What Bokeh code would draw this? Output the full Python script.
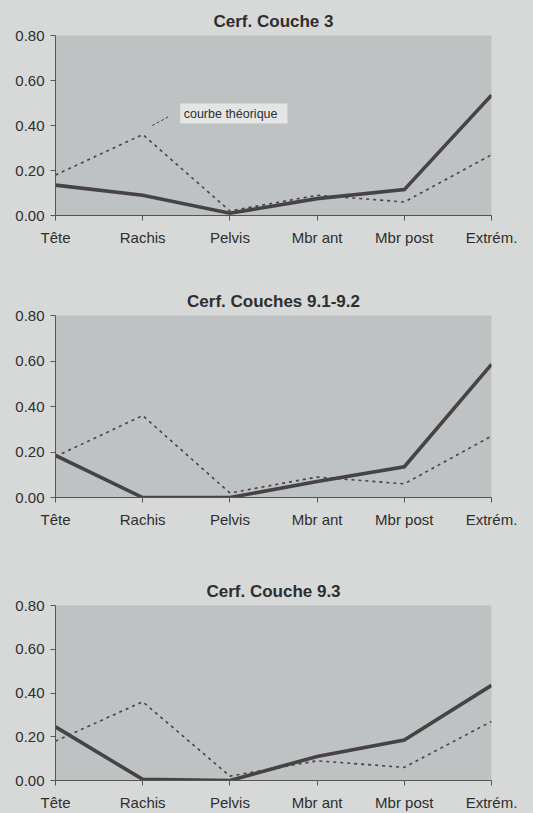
from bokeh.plotting import figure
from bokeh.layouts import column
from bokeh.models import FixedTicker, BoxAnnotation, Label, Range1d, NumeralTickFormatter
from bokeh.embed import file_html
from bokeh.resources import INLINE

categories = ["Tête", "Rachis", "Pelvis", "Mbr ant", "Mbr post", "Extrém."]
theorique = [0.18, 0.36, 0.02, 0.09, 0.06, 0.27]
couche_3 = [0.135, 0.09, 0.01, 0.075, 0.115, 0.535]
couches_91_92 = [0.185, 0.0, 0.0, 0.07, 0.135, 0.585]
couche_93 = [0.245, 0.005, 0.0, 0.11, 0.185, 0.435]
titles = ["Cerf. Couche 3", "Cerf. Couches 9.1-9.2", "Cerf. Couche 9.3"]
series = [couche_3, couches_91_92, couche_93]
y_ticks = [0.0, 0.2, 0.4, 0.6, 0.8]

PAGE_BG = "#d6d9d8"
PLOT_BG = "#bec2c2"
INK = "#474245"
TEXT = "#2e2e2e"
FONT = "Liberation Sans"

# per-panel layout: height, borders (top, bottom, left, right), title standoff
layouts = [
    dict(height=258, top=35, bottom=43, left=55, right=36, tstand=10),
    dict(height=290, top=57, bottom=51, left=53, right=40, tstand=9),
    dict(height=265, top=57, bottom=29, left=52, right=42, tstand=10),
]

figs = []
xs = list(range(len(categories)))
for i, (title, obs, lay) in enumerate(zip(titles, series, layouts)):
    p = figure(width=533, height=lay["height"], output_backend="svg", toolbar_location=None,
               x_range=Range1d(0, len(categories) - 1), y_range=Range1d(0, 0.8),
               min_border_top=lay["top"], min_border_bottom=lay["bottom"],
               min_border_left=lay["left"], min_border_right=lay["right"],
               title=title)
    p.background_fill_color = PLOT_BG
    p.border_fill_color = PAGE_BG
    p.outline_line_color = None
    p.grid.visible = False

    p.title.text_font = FONT
    p.title.text_font_size = "17px"
    p.title.text_font_style = "bold"
    p.title.text_color = TEXT
    p.title.align = "center"
    p.title.standoff = lay["tstand"]

    for ax in (p.xaxis[0], p.yaxis[0]):
        ax.axis_line_color = "#555555"
        ax.axis_line_width = 1
        ax.major_tick_line_color = "#555555"
        ax.major_tick_out = 5
        ax.major_tick_in = 0
        ax.minor_tick_line_color = None
        ax.major_label_text_font = FONT
        ax.major_label_text_font_size = "15px"
        ax.major_label_text_color = TEXT

    p.xaxis.ticker = FixedTicker(ticks=xs)
    p.xaxis.major_label_overrides = {k: c for k, c in zip(xs, categories)}
    p.xaxis.major_label_standoff = 8
    p.yaxis.ticker = FixedTicker(ticks=y_ticks)
    p.yaxis.formatter = NumeralTickFormatter(format="0.00")
    p.yaxis.major_label_standoff = 6

    p.line(xs, theorique, line_color=INK, line_width=1.6, line_dash="3 4")
    p.line(xs, obs, line_color=INK, line_width=3.6, line_join="miter")

    if i == 0:
        box = BoxAnnotation(left=1.43, right=2.66, bottom=0.409, top=0.498,
                            fill_color="#e4e6e5", fill_alpha=1.0, line_color=None)
        p.add_layout(box)
        p.add_layout(Label(x=1.47, y=0.453, text="courbe théorique", text_baseline="middle",
                           text_font=FONT, text_font_size="12.5px", text_color=TEXT))
        p.segment(x0=[1.11], y0=[0.40], x1=[1.30], y1=[0.44], line_color=INK,
                  line_width=1, line_dash="3 2")
    figs.append(p)

layout = column(*figs, spacing=0, styles={"background-color": PAGE_BG})
open("out.html", "w").write(file_html(layout, INLINE))
